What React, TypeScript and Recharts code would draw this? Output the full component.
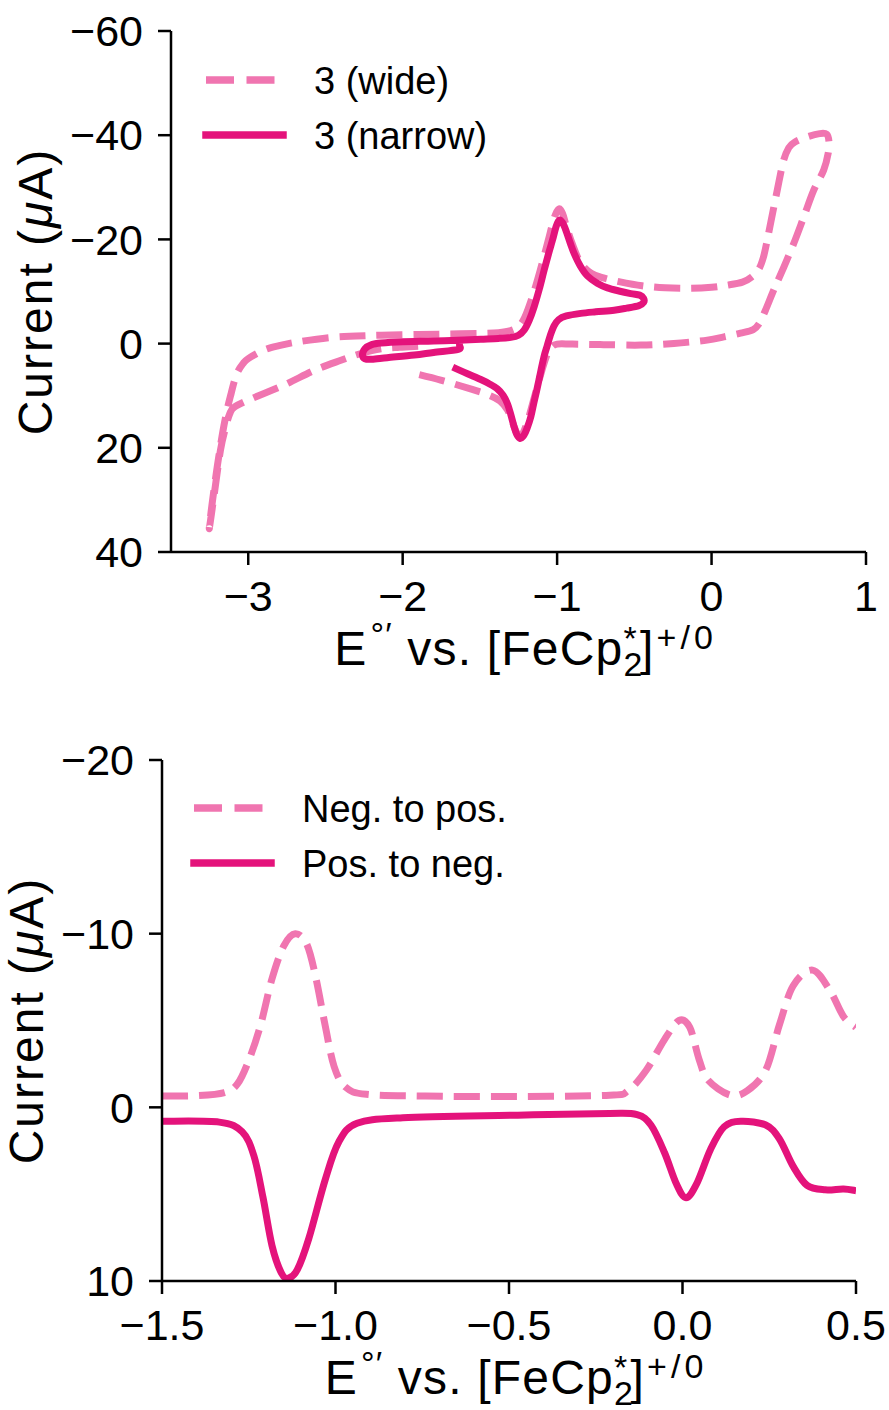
import { LineChart, Line, XAxis, YAxis, Legend } from "recharts";

const FONT = '"Liberation Sans", Arial, Helvetica, sans-serif';
const LIGHT = "#F075B0";
const DARK = "#E4137B";

// top panel: cyclic voltammograms (E in V, current in uA)
const wideE = [
  -1.9, -2.02, -2.14, -2.27, -2.4, -2.57, -2.77, -2.98, -3.09, -3.12, -3.15, -3.18, -3.22, -3.252,
  -3.235, -3.2, -3.165, -3.135, -3.11, -3.09, -3.069, -3.035, -3.0, -2.9, -2.8, -2.68, -2.47, -2.3,
  -2.14, -1.9, -1.7, -1.5, -1.38, -1.3, -1.25, -1.21, -1.16, -1.11, -1.06, -1.02, -0.99, -0.965,
  -0.94, -0.9, -0.85, -0.78, -0.7, -0.6, -0.45, -0.3, -0.14, 0.0, 0.1, 0.2, 0.26, 0.306, 0.335, 0.36,
  0.385, 0.425, 0.465, 0.5, 0.54, 0.62, 0.7, 0.745, 0.76, 0.755, 0.726, 0.661, 0.597, 0.532, 0.468,
  0.403, 0.349, 0.31, 0.27, 0.188, 0.08, -0.028, -0.244, -0.459, -0.7, -0.9, -1.0, -1.04, -1.07,
  -1.1, -1.14, -1.18, -1.215, -1.24, -1.265, -1.29, -1.32, -1.37, -1.45, -1.55, -1.754, -1.927,
];
const wideI = [
  0.5, 0.7, 1.0, 1.9, 3.2, 5.1, 8.0, 10.6, 12.2, 13.5, 16.5, 20.5, 28.9, 35.5,
  31, 23.5, 17, 12.5, 9.5, 7.2, 5.45, 3.9, 2.87, 1.27, 0.4, -0.33, -1.17, -1.45,
  -1.62, -1.75, -1.85, -1.95, -2.1, -2.5, -3.3, -5.0, -9.0, -14.0, -19.5, -24.0, -25.8, -25.0,
  -22.5, -19.0, -15.6, -13.5, -12.6, -11.9, -11.1, -10.7, -10.6, -10.8, -11.2, -11.8, -12.8, -14.3, -16.5, -19.8,
  -23.5, -29.4, -35.0, -37.6, -38.7, -39.7, -40.3, -40.2, -38.8, -36.5, -33.3, -29.4, -24.3, -19.2, -14.7,
  -10.3, -6.4, -3.9, -2.7, -2.0, -1.3, -0.67, -0.03, 0.29, 0.2, 0.1, 0.1, 0.8, 2.5,
  5.3, 9.5, 13.8, 16.8, 17.6, 16.9, 15.0, 12.8, 11.0, 9.8, 8.8, 7.0, 5.7,
];
const narrowE = [
  -1.634, -1.64, -1.8, -1.925, -2.1, -2.2, -2.245, -2.26, -2.245, -2.2, -2.14, -2.0, -1.8, -1.6,
  -1.494, -1.38, -1.3, -1.25, -1.213, -1.18, -1.149, -1.115, -1.084, -1.055, -1.03, -1.005, -0.985,
  -0.965, -0.944, -0.915, -0.89, -0.85, -0.804, -0.74, -0.674, -0.6, -0.523, -0.465, -0.44, -0.44,
  -0.47, -0.55, -0.631, -0.75, -0.847, -0.94, -0.99, -1.02, -1.045, -1.065, -1.084, -1.105, -1.127,
  -1.15, -1.17, -1.195, -1.215, -1.24, -1.262, -1.28, -1.3, -1.321, -1.35, -1.386, -1.44, -1.494,
  -1.58, -1.655,
];
const narrowI = [
  0.3, 1.1, 1.7, 2.2, 2.7, 3.0, 2.9, 2.2, 1.0, 0.2, -0.1, -0.35, -0.5, -0.7,
  -0.85, -1.0, -1.2, -1.6, -2.6, -4.5, -7.05, -10.5, -14.1, -17.3, -19.85, -22.6, -23.7,
  -23.2, -21.8, -19.3, -17.3, -14.9, -13.0, -11.6, -10.7, -10.1, -9.6, -9.3, -8.7, -7.9,
  -7.3, -6.8, -6.4, -6.1, -5.8, -5.3, -4.6, -3.4, -1.5, 0.5, 2.4, 5.2, 8.3,
  11.3, 14.0, 16.3, 17.6, 18.2, 17.4, 15.8, 13.6, 11.6, 9.9, 8.7, 7.7, 6.9,
  5.8, 4.8,
];
const cvTicksE = [-3, -2, -1, 0, 1];
const cvTicksI = [-60, -40, -20, 0, 20, 40];

// bottom panel: differential pulse voltammetry
const negPosE = [
  -1.5, -1.4, -1.32, -1.282, -1.249, -1.216, -1.183, -1.149, -1.116, -1.083, -1.057, -1.03, -1.004,
  -0.971, -0.911, -0.74, -0.475, -0.21, -0.157, -0.104, -0.052, -0.01, 0.021, 0.048, 0.074, 0.138,
  0.187, 0.24, 0.279, 0.319, 0.375, 0.425, 0.464, 0.5,
];
const negPosI = [
  -0.65, -0.67, -0.85, -1.36, -2.75, -4.73, -7.4, -9.3, -10.0, -9.4, -7.5, -4.73, -2.35,
  -1.16, -0.75, -0.65, -0.62, -0.7, -0.96, -2.15, -3.9, -5.0, -4.6, -2.75, -1.56, -0.7,
  -0.96, -2.15, -4.73, -7.0, -7.9, -6.72, -5.23, -4.6,
];
const posNegE = [
  -1.5, -1.335, -1.269, -1.235, -1.209, -1.183, -1.156, -1.136, -1.11, -1.077, -1.03, -0.991, -0.938,
  -0.806, -0.475, -0.21, -0.131, -0.091, -0.052, -0.018, 0.01, 0.041, 0.081, 0.12, 0.168, 0.24,
  0.279, 0.319, 0.359, 0.411, 0.464, 0.5,
];
const posNegI = [
  0.8, 0.85, 1.41, 2.8, 5.18, 7.96, 9.54, 9.84, 9.35, 7.56, 4.19, 2.01, 0.92,
  0.6, 0.45, 0.35, 0.42, 1.02, 2.6, 4.39, 5.2, 4.39, 2.41, 1.12, 0.8, 1.02,
  1.81, 3.4, 4.49, 4.75, 4.7, 4.8,
];
const dpvTicksE = [-1.5, -1.0, -0.5, 0.0, 0.5];
const dpvTicksI = [-20, -10, 0, 10];

const toPoints = (xs: number[], ys: number[]) => xs.map((x, i) => ({ x, y: ys[i] }));
const minus = (s: string) => s.replace("-", "\u2212");

// Catmull-Rom through the points, so loops and reversals stay smooth
const smooth = (context: any) => {
  let pts: number[][] = [];
  return {
    areaStart() {},
    areaEnd() {},
    lineStart() {
      pts = [];
    },
    point(x: number, y: number) {
      pts.push([+x, +y]);
    },
    lineEnd() {
      if (!pts.length) return;
      context.moveTo(pts[0][0], pts[0][1]);
      for (let i = 0; i < pts.length - 1; i++) {
        const p0 = pts[i - 1] || pts[i];
        const p1 = pts[i];
        const p2 = pts[i + 1];
        const p3 = pts[i + 2] || p2;
        context.bezierCurveTo(
          p1[0] + (p2[0] - p0[0]) / 6,
          p1[1] + (p2[1] - p0[1]) / 6,
          p2[0] - (p3[0] - p1[0]) / 6,
          p2[1] - (p3[1] - p1[1]) / 6,
          p2[0],
          p2[1]
        );
      }
    },
  };
};

const TICK = { fill: "#000", fontSize: 43, fontFamily: FONT };
const AXIS_LINE = { stroke: "#000", strokeWidth: 2.5 };
const LW = 7;
const DASH = "26 11";

function XTitle(props: any) {
  const vb = props.viewBox || {};
  const cx = vb.x + vb.width / 2 + 7;
  const y = vb.y + 113;
  return (
    <text x={cx} y={y} textAnchor="middle" fontFamily={FONT} fontSize={48} fill="#000" letterSpacing={1.2}>
      E<tspan fontSize={34} dx={3} dy={-19}>°′</tspan>
      <tspan dy={19}> vs. [FeCp</tspan>
      <tspan fontSize={34} dy={11}>2</tspan>
      <tspan fontSize={34} dx={-20} dy={-26}>*</tspan>
      <tspan dx={2} dy={15}>]</tspan>
      <tspan fontSize={34} dx={2} dy={-16} letterSpacing={4}>+/0</tspan>
    </text>
  );
}

function YTitle(props: any) {
  const vb = props.viewBox || {};
  const bx = vb.x + vb.width - 119;
  const cy = vb.y + vb.height / 2;
  return (
    <text
      transform={`translate(${bx},${cy}) rotate(-90)`}
      textAnchor="middle"
      fontFamily={FONT}
      fontSize={48}
      letterSpacing={2}
      fill="#000"
    >
      Current (<tspan fontStyle="italic">μ</tspan>A)
    </text>
  );
}

function LegendBox({ labels }: { labels: string[] }) {
  return (
    <svg width={420} height={110} style={{ overflow: "visible" }}>
      <line x1={10} x2={87} y1={20} y2={20} stroke={LIGHT} strokeWidth={7.5} strokeDasharray="28 12.5" />
      <line x1={10} x2={87} y1={75} y2={75} stroke={DARK} strokeWidth={7.5} strokeLinecap="square" />
      <text x={118} y={20} dy="0.36em" fontFamily={FONT} fontSize={38} fill="#000">
        {labels[0]}
      </text>
      <text x={118} y={75} dy="0.36em" fontFamily={FONT} fontSize={38} fill="#000">
        {labels[1]}
      </text>
    </svg>
  );
}

export default function App() {
  const wide = toPoints(wideE, wideI);
  const narrow = toPoints(narrowE, narrowI);
  const negPos = toPoints(negPosE, negPosI);
  const posNeg = toPoints(posNegE, posNegI);

  return (
    <div style={{ position: "absolute", left: 0, top: 0, width: 889, height: 1410, background: "#fff" }}>
      <div style={{ position: "absolute", left: 0, top: 0 }}>
        <LineChart width={889} height={700} margin={{ top: 31, right: 23, bottom: 0, left: 0 }}>
          <XAxis
            type="number"
            dataKey="x"
            domain={[-3.5, 1]}
            ticks={cvTicksE}
            allowDataOverflow
            height={148}
            tick={TICK}
            tickFormatter={(v: number) => minus(String(v))}
            tickSize={13}
            tickMargin={15}
            tickLine={AXIS_LINE}
            axisLine={AXIS_LINE}
            label={<XTitle />}
          />
          <XAxis xAxisId="top" orientation="top" type="number" domain={[-3.5, 1]} height={0} tick={false} tickLine={false} axisLine={AXIS_LINE} />
          <YAxis
            type="number"
            dataKey="y"
            domain={[-60, 40]}
            ticks={cvTicksI}
            reversed
            allowDataOverflow
            width={171}
            tick={TICK}
            tickFormatter={(v: number) => minus(String(v))}
            tickSize={13}
            tickMargin={15}
            tickLine={AXIS_LINE}
            axisLine={AXIS_LINE}
            label={<YTitle />}
          />
          <YAxis yAxisId="right" orientation="right" type="number" domain={[-60, 40]} width={0} tick={false} tickLine={false} axisLine={AXIS_LINE} />
          <Line
            data={wide}
            dataKey="y"
            name="3 (wide)"
            type={smooth as any}
            stroke={LIGHT}
            strokeWidth={LW}
            strokeDasharray={DASH}
            strokeLinejoin="round"
            dot={false}
            activeDot={false}
            isAnimationActive={false}
          />
          <Line
            data={narrow}
            dataKey="y"
            name="3 (narrow)"
            type={smooth as any}
            stroke={DARK}
            strokeWidth={LW}
            strokeLinejoin="round"
            strokeLinecap="square"
            dot={false}
            activeDot={false}
            isAnimationActive={false}
          />
          <Legend
            layout="vertical"
            align="center"
            verticalAlign="middle"
            wrapperStyle={{ left: 196, top: 60, width: 420 }}
            content={() => <LegendBox labels={["3 (wide)", "3 (narrow)"]} />}
          />
        </LineChart>
      </div>
      <div style={{ position: "absolute", left: 0, top: 700 }}>
        <LineChart width={889} height={710} margin={{ top: 60, right: 33, bottom: 0, left: 0 }}>
          <XAxis
            type="number"
            dataKey="x"
            domain={[-1.5, 0.5]}
            ticks={dpvTicksE}
            allowDataOverflow
            height={129}
            tick={TICK}
            tickFormatter={(v: number) => minus(v.toFixed(1))}
            tickSize={13}
            tickMargin={15}
            tickLine={AXIS_LINE}
            axisLine={AXIS_LINE}
            label={<XTitle />}
          />
          <XAxis xAxisId="top" orientation="top" type="number" domain={[-1.5, 0.5]} height={0} tick={false} tickLine={false} axisLine={AXIS_LINE} />
          <YAxis
            type="number"
            dataKey="y"
            domain={[-20, 10]}
            ticks={dpvTicksI}
            reversed
            allowDataOverflow
            width={162}
            tick={TICK}
            tickFormatter={(v: number) => minus(String(v))}
            tickSize={13}
            tickMargin={15}
            tickLine={AXIS_LINE}
            axisLine={AXIS_LINE}
            label={<YTitle />}
          />
          <YAxis yAxisId="right" orientation="right" type="number" domain={[-20, 10]} width={0} tick={false} tickLine={false} axisLine={AXIS_LINE} />
          <Line
            data={negPos}
            dataKey="y"
            name="Neg. to pos."
            type={smooth as any}
            stroke={LIGHT}
            strokeWidth={LW}
            strokeDasharray={DASH}
            strokeLinejoin="round"
            dot={false}
            activeDot={false}
            isAnimationActive={false}
          />
          <Line
            data={posNeg}
            dataKey="y"
            name="Pos. to neg."
            type={smooth as any}
            stroke={DARK}
            strokeWidth={LW}
            strokeLinejoin="round"
            dot={false}
            activeDot={false}
            isAnimationActive={false}
          />
          <Legend
            layout="vertical"
            align="center"
            verticalAlign="middle"
            wrapperStyle={{ left: 184, top: 88, width: 420 }}
            content={() => <LegendBox labels={["Neg. to pos.", "Pos. to neg."]} />}
          />
        </LineChart>
      </div>
    </div>
  );
}
